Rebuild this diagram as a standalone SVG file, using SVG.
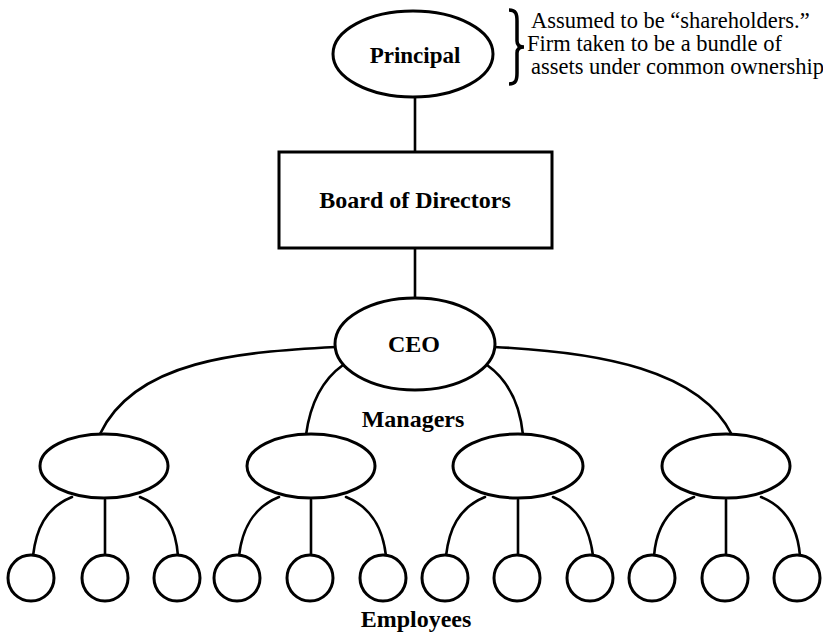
<svg xmlns="http://www.w3.org/2000/svg" width="823" height="636" viewBox="0 0 823 636">
<style>
.s{fill:#fff;stroke:#000;stroke-width:3}
.c{fill:none;stroke:#000;stroke-width:2.6;stroke-linecap:round}
.b{font-family:"Liberation Serif",serif;font-weight:bold;font-size:24px;text-anchor:middle;fill:#000}
.t{font-family:"Liberation Serif",serif;font-size:22.5px;fill:#000}
</style>
<rect width="823" height="636" fill="#fff"/>
<g id="connectors">
<path class="c" d="M415,98 V152"/>
<path class="c" d="M415,248 V298"/>
<path class="c" d="M336,347 C240,352 135,360 100,434"/>
<path class="c" d="M343,365 C322,380 310,405 306,435"/>
<path class="c" d="M487,365 C508,380 520,405 523,435"/>
<path class="c" d="M494,347 C600,352 700,370 732,435"/>
<path class="c" d="M72,497 C45,508 36,530 33,556"/>
<path class="c" d="M105,500 V556"/>
<path class="c" d="M140,497 C167,508 176,530 178,556"/>
<path class="c" d="M279,497 C252,508 242,530 239,556"/>
<path class="c" d="M311,500 V556"/>
<path class="c" d="M346,497 C373,508 383,530 386,556"/>
<path class="c" d="M485,497 C458,508 449,530 446,556"/>
<path class="c" d="M518,500 V556"/>
<path class="c" d="M553,497 C580,508 590,530 593,556"/>
<path class="c" d="M694,497 C667,508 656,530 654,556"/>
<path class="c" d="M726,500 V556"/>
<path class="c" d="M761,497 C788,508 798,530 800,556"/>
</g>
<g id="principal">
<ellipse class="s" cx="413" cy="54" rx="80" ry="43"/>
<text class="b" x="415" y="63" style="font-size:23px">Principal</text>
</g>
<g id="note">
<path d="M509,10 C516,10 517,14 517,21 V41 C517,45 519,47 524,47 C519,47 517,49 517,53 V73 C517,80 516,84 509,84" fill="none" stroke="#000" stroke-width="3.5"/>
<text class="t" x="531" y="28">Assumed to be “shareholders.”</text>
<text class="t" x="527" y="51">Firm taken to be a bundle of</text>
<text class="t" x="531" y="74">assets under common ownership</text>
</g>
<g id="board">
<rect class="s" x="279" y="152" width="273" height="96"/>
<text class="b" x="415" y="208">Board of Directors</text>
</g>
<g id="ceo">
<ellipse class="s" cx="415" cy="344" rx="80" ry="46"/>
<text class="b" x="414" y="352">CEO</text>
</g>
<text class="b" x="413" y="427">Managers</text>
<g id="m1"><ellipse class="s" cx="104" cy="466" rx="64" ry="32"/></g>
<g id="m2"><ellipse class="s" cx="311" cy="466" rx="64" ry="32"/></g>
<g id="m3"><ellipse class="s" cx="518" cy="466" rx="65" ry="32"/></g>
<g id="m4"><ellipse class="s" cx="726" cy="466" rx="64" ry="32"/></g>
<g id="e1"><circle class="s" cx="31" cy="578" r="23"/></g>
<g id="e2"><circle class="s" cx="105" cy="578" r="23"/></g>
<g id="e3"><circle class="s" cx="177" cy="578" r="23"/></g>
<g id="e4"><circle class="s" cx="237" cy="578" r="23"/></g>
<g id="e5"><circle class="s" cx="310" cy="578" r="23"/></g>
<g id="e6"><circle class="s" cx="383" cy="578" r="23"/></g>
<g id="e7"><circle class="s" cx="445" cy="578" r="23"/></g>
<g id="e8"><circle class="s" cx="517" cy="578" r="23"/></g>
<g id="e9"><circle class="s" cx="590" cy="578" r="23"/></g>
<g id="e10"><circle class="s" cx="652" cy="578" r="23"/></g>
<g id="e11"><circle class="s" cx="725" cy="578" r="23"/></g>
<g id="e12"><circle class="s" cx="797" cy="578" r="23"/></g>
<text class="b" x="416" y="627">Employees</text>
</svg>
